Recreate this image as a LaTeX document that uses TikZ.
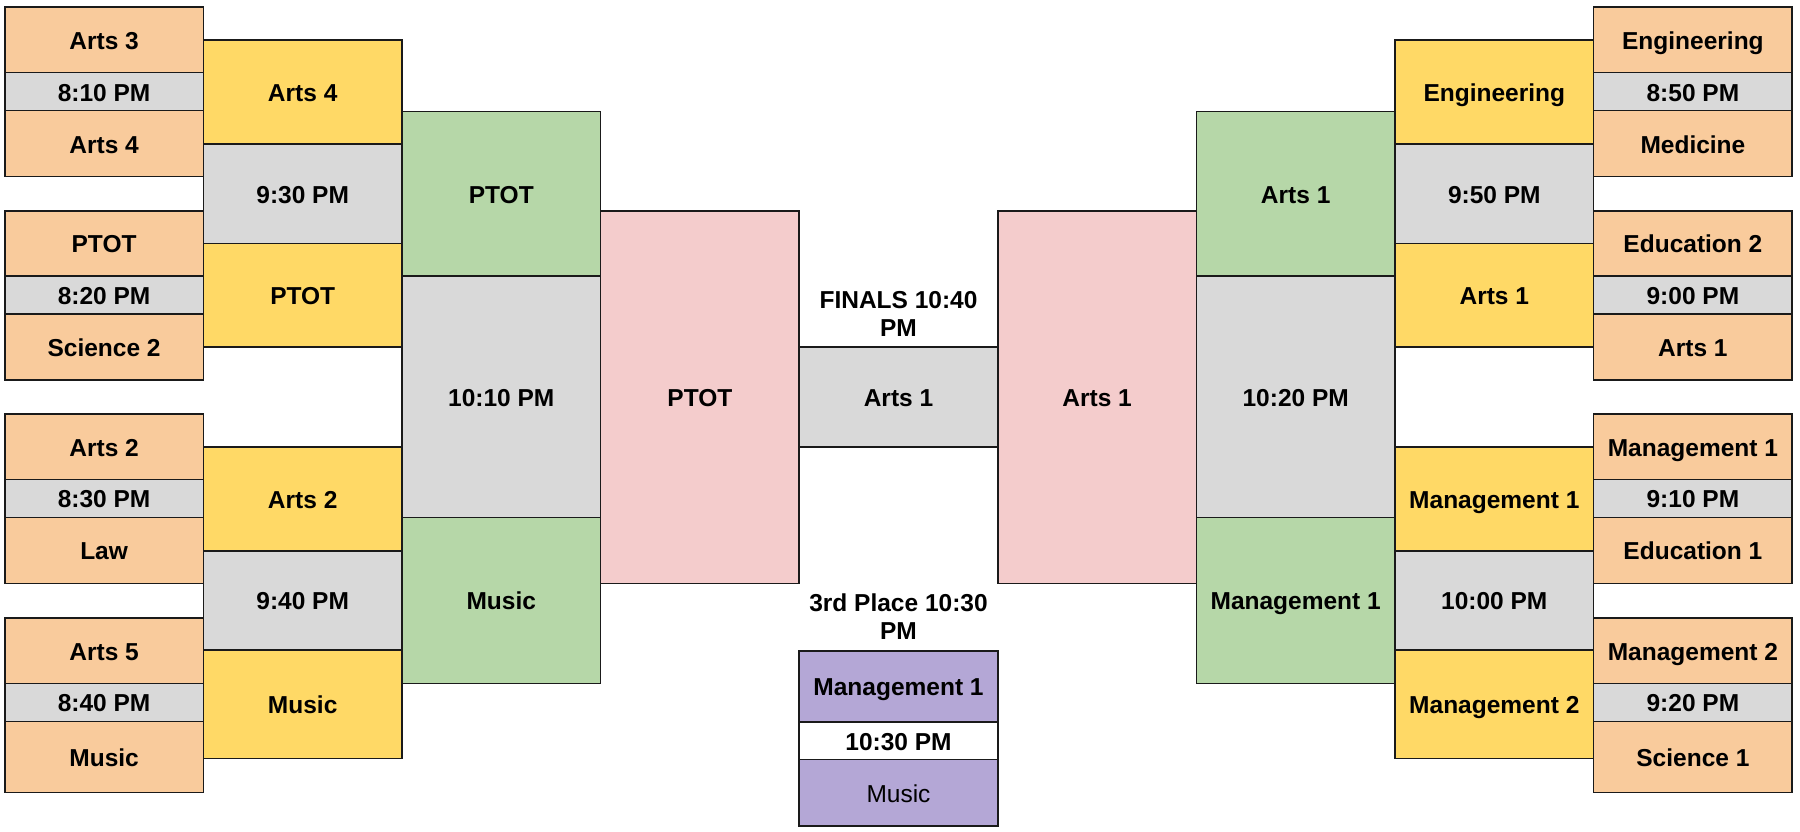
\documentclass[tikz,border=0pt]{standalone}
\usepackage{fontspec}
\setmainfont{Liberation Sans}
\usepackage{tikz}
\usetikzlibrary{positioning}

\definecolor{seedorange}{HTML}{F9CB9C}
\definecolor{winyellow}{HTML}{FFD966}
\definecolor{semigreen}{HTML}{B6D7A8}
\definecolor{finalpink}{HTML}{F4CCCC}
\definecolor{thirdpurple}{HTML}{B4A7D6}
\definecolor{timegrey}{HTML}{D9D9D9}
\definecolor{edgeblack}{HTML}{1A1A1A}

\tikzset{
  cell/.style={draw=edgeblack, line width=1.6pt, rectangle, inner sep=0pt, outer sep=0pt,
               minimum width=198.6pt, anchor=north, align=center,
               text height=19pt, text depth=0pt,
               font=\bfseries\fontsize{24.5}{28}\selectfont},
  seed/.style={cell, fill=seedorange},
  win/.style={cell, fill=winyellow},
  semi/.style={cell, fill=semigreen},
  final/.style={cell, fill=finalpink},
  third/.style={cell, fill=thirdpurple},
  slot/.style={cell, fill=timegrey},
  caption/.style={align=center, inner sep=0pt, font=\bfseries\fontsize{24.5}{28}\selectfont}
}

\begin{document}
\begin{tikzpicture}[x=1pt, y=-1pt]
    \useasboundingbox (0,0) rectangle (1800,832);

    % first round, left side
    \foreach \g/\y/\hb/\a/\tm/\b in {1/7.3/66/Arts 3/8:10 PM/Arts 4,
                                    2/210.7/66/PTOT/8:20 PM/Science 2,
                                    3/414/66/Arts 2/8:30 PM/Law,
                                    4/618/71/Arts 5/8:40 PM/Music}
    {
        \node[seed, minimum height=65.4pt] (L\g-a) at (104.1,\y) {\a};
        \node[slot, minimum height=38pt, below=0pt of L\g-a] (L\g-t) {\tm};
        \node[seed, minimum height=\hb pt, below=0pt of L\g-t] (L\g-b) {\b};
    }

    % first round, right side
    \foreach \g/\y/\hb/\a/\tm/\b in {1/7.3/66/Engineering/8:50 PM/Medicine,
                                    2/210.7/66/Education 2/9:00 PM/Arts 1,
                                    3/414/66/Management 1/9:10 PM/Education 1,
                                    4/618/71/Management 2/9:20 PM/Science 1}
    {
        \node[seed, minimum height=65.4pt] (R\g-a) at (1692.9,\y) {\a};
        \node[slot, minimum height=38pt, below=0pt of R\g-a] (R\g-t) {\tm};
        \node[seed, minimum height=\hb pt, below=0pt of R\g-t] (R\g-b) {\b};
    }

    % quarter finals
    \node[win, minimum height=104pt] (LA-top) at (302.7,40) {Arts 4};
    \node[slot, minimum height=99.3pt, below=0pt of LA-top] (LA-time) {9:30 PM};
    \node[win, minimum height=103.4pt, below=0pt of LA-time] (LA-bot) {PTOT};

    \node[win, minimum height=104pt] (LB-top) at (302.7,446.7) {Arts 2};
    \node[slot, minimum height=99.3pt, below=0pt of LB-top] (LB-time) {9:40 PM};
    \node[win, minimum height=108.6pt, below=0pt of LB-time] (LB-bot) {Music};

    \node[win, minimum height=104pt] (RA-top) at (1494.3,40) {Engineering};
    \node[slot, minimum height=99.3pt, below=0pt of RA-top] (RA-time) {9:50 PM};
    \node[win, minimum height=103.4pt, below=0pt of RA-time] (RA-bot) {Arts 1};

    \node[win, minimum height=104pt] (RB-top) at (1494.3,446.7) {Management 1};
    \node[slot, minimum height=99.3pt, below=0pt of RB-top] (RB-time) {10:00 PM};
    \node[win, minimum height=108.6pt, below=0pt of RB-time] (RB-bot) {Management 2};

    % semi finals
    \node[semi, minimum height=164.3pt] (LS-top) at (501.3,111.7) {PTOT};
    \node[slot, minimum height=241.3pt, below=0pt of LS-top] (LS-time) {10:10 PM};
    \node[semi, minimum height=166pt, below=0pt of LS-time] (LS-bot) {Music};

    \node[semi, minimum height=164.3pt] (RS-top) at (1295.7,111.7) {Arts 1};
    \node[slot, minimum height=241.3pt, below=0pt of RS-top] (RS-time) {10:20 PM};
    \node[semi, minimum height=166pt, below=0pt of RS-time] (RS-bot) {Management 1};

    % finalists
    \node[final, minimum height=372.6pt] (LF) at (699.9,210.7) {PTOT};
    \node[final, minimum height=372.6pt] (RF) at (1097.1,210.7) {Arts 1};

    % final and 3rd place
    \node[caption] (final-label) at (898.5,314) {FINALS 10:40\\PM};
    \node[slot, minimum height=100pt] (champ) at (898.5,347) {Arts 1};

    \node[caption] (third-label) at (898.5,616.4) {3rd Place 10:30\\PM};
    \node[third, minimum height=71pt] (third-a) at (898.5,650.7) {Management 1};
    \node[cell, fill=white, minimum height=37.6pt, below=0pt of third-a] (third-t) {10:30 PM};
    \node[third, minimum height=66.4pt, below=0pt of third-t,
          font=\mdseries\fontsize{24.5}{28}\selectfont] (third-b) {Music};

\end{tikzpicture}
\end{document}
